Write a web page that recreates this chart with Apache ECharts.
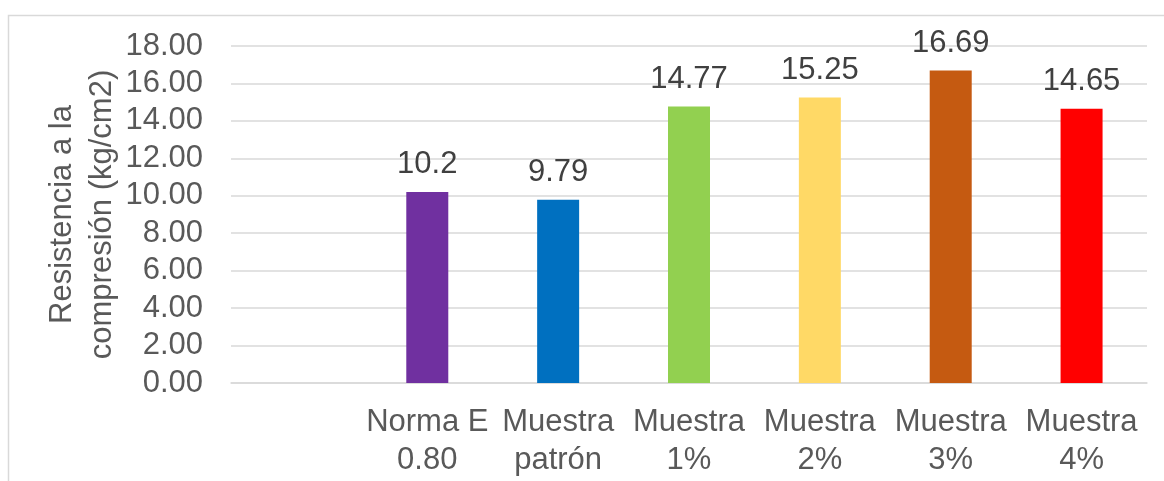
<!DOCTYPE html>
<html><head><meta charset="utf-8">
<script src="https://cdn.jsdelivr.net/npm/echarts@6/dist/echarts.min.js"></script>
<style>html,body{margin:0;padding:0;background:#fff}#c{width:1164px;height:481px}</style>
</head><body><div id="c"></div>
<script>
const categories = ['', 'Norma E\n0.80', 'Muestra\npatrón', 'Muestra\n1%', 'Muestra\n2%', 'Muestra\n3%', 'Muestra\n4%'];
const values = [null, 10.2, 9.79, 14.77, 15.25, 16.69, 14.65];
const barColors = ['#ffffff', '#7030A0', '#0070C0', '#92D050', '#FFD966', '#C55A11', '#FF0000'];
const yTicks = [0, 2, 4, 6, 8, 10, 12, 14, 16, 18];
const yName = 'Resistencia a la\ncompresión (kg/cm2)';

const chart = echarts.init(document.getElementById('c'));
const font = 'Liberation Sans, Arial, sans-serif';
chart.setOption({
  animation: false,
  graphic: [{type: 'rect', shape: {x: 8.5, y: 15.5, width: 1200, height: 520}, style: {fill: 'none', stroke: '#D9D9D9', lineWidth: 1.5}, silent: true}],
  grid: {left: 231, right: 17, top: 46, bottom: 98},
  xAxis: {
    type: 'category', data: categories,
    axisLine: {lineStyle: {color: '#D9D9D9', width: 1.5}},
    axisTick: {show: false},
    axisLabel: {interval: 0, color: '#595959', fontFamily: font, fontSize: 31, lineHeight: 38, margin: 20}
  },
  yAxis: {
    type: 'value', min: yTicks[0], max: yTicks[yTicks.length - 1], interval: 2,
    name: yName, nameLocation: 'middle', nameGap: 109, nameRotate: 90, nameMoveOverlap: false,
    nameTextStyle: {color: '#595959', fontFamily: font, fontSize: 31, lineHeight: 40},
    axisLine: {show: false}, axisTick: {show: false},
    splitLine: {lineStyle: {color: '#D9D9D9', width: 1.5}},
    axisLabel: {color: '#595959', fontFamily: font, fontSize: 31, margin: 28, formatter: v => v.toFixed(2)}
  },
  series: [{
    type: 'bar', barWidth: 42,
    data: values.map((v, i) => ({value: v, itemStyle: {color: barColors[i]}})),
    label: {show: true, position: 'top', distance: 12, color: '#404040', fontFamily: font, fontSize: 31,
      formatter: p => p.value == null ? '' : String(p.value)}
  }]
});
</script></body></html>
